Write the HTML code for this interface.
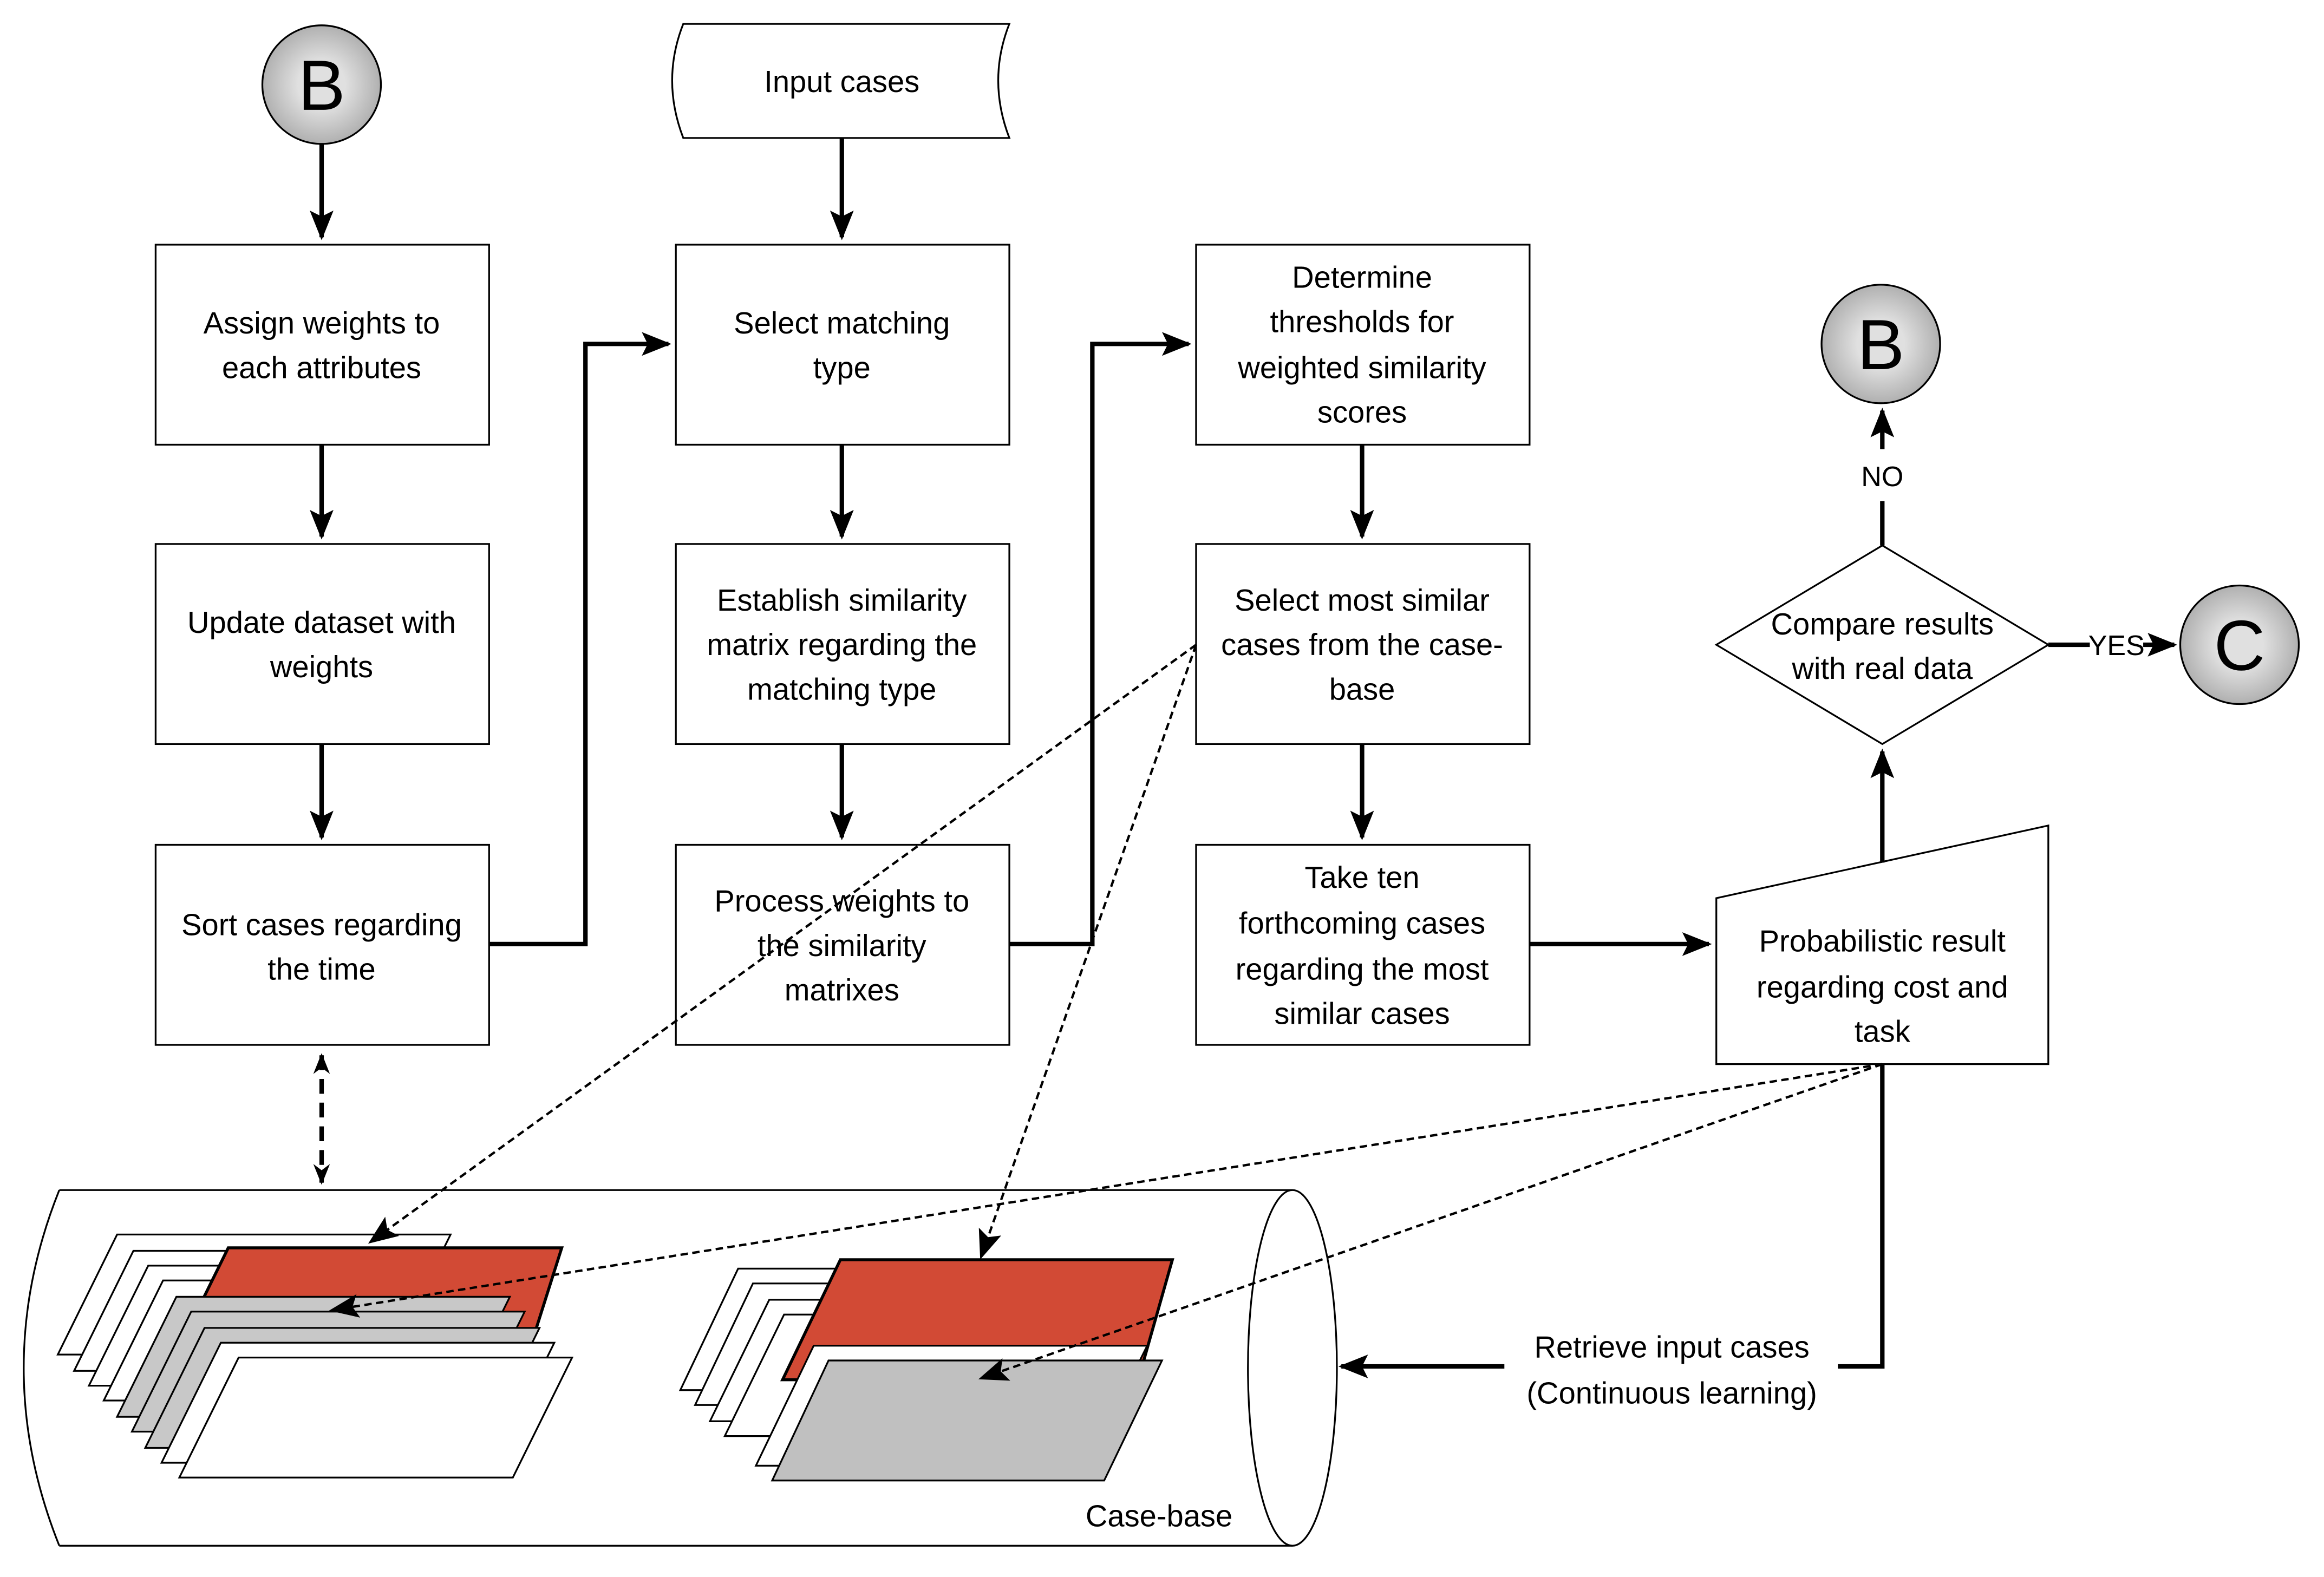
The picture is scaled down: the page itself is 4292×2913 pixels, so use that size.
<!DOCTYPE html>
<html><head><meta charset="utf-8"><style>html,body{margin:0;padding:0;background:#fff}svg{display:block}</style></head><body>
<svg xmlns="http://www.w3.org/2000/svg" width="4292" height="2913" viewBox="0 0 1568 1064" font-family="Liberation Sans, sans-serif">
<defs>
<radialGradient id="g" cx="0.5" cy="0.5" r="0.5"><stop offset="0.4" stop-color="#e0e0e0"/><stop offset="1" stop-color="#b0b0b0"/></radialGradient>
<marker id="ab" viewBox="0 0 10 10" refX="9" refY="5" markerWidth="20" markerHeight="20" markerUnits="userSpaceOnUse" orient="auto"><path d="M0,1L10,5L0,9L2,5z"/></marker>
<marker id="as" viewBox="0 0 10 10" refX="9" refY="5" markerWidth="16" markerHeight="14" markerUnits="userSpaceOnUse" orient="auto-start-reverse"><path d="M0,1L10,5L0,9L3,5z"/></marker>
</defs>
<rect width="1568" height="1064" fill="#fff"/>
<g fill="#fff" stroke="#000" stroke-width="1.2">
<rect x="105" y="165" width="225" height="135"/><rect x="105" y="367" width="225" height="135"/><rect x="105" y="570" width="225" height="135"/>
<rect x="456" y="165" width="225" height="135"/><rect x="456" y="367" width="225" height="135"/><rect x="456" y="570" width="225" height="135"/>
<rect x="807" y="165" width="225" height="135"/><rect x="807" y="367" width="225" height="135"/><rect x="807" y="570" width="225" height="135"/>
<path d="M461,16H681Q666,54 681,93H461Q446,54 461,16z"/>
<path d="M1270,368L1382,435L1270,502L1158,435z"/>
<path d="M1158,606L1382,557V718H1158z"/>
<circle cx="217" cy="57" r="40" fill="url(#g)"/><circle cx="1269" cy="232" r="40" fill="url(#g)"/><circle cx="1511" cy="435" r="40" fill="url(#g)"/>
<path d="M40,803H872M40,1043H872M40,803Q-8,923 40,1043" fill="none"/>
<ellipse cx="872" cy="923" rx="30" ry="120" fill="none"/>
</g>
<g font-size="48" text-anchor="middle" fill="#000"><text x="217" y="74">B</text><text x="1269" y="249">B</text><text x="1511" y="452">C</text></g>
<g stroke="#000" stroke-width="3" fill="none">
<path d="M217,97V160" marker-end="url(#ab)"/><path d="M217,300V362" marker-end="url(#ab)"/><path d="M217,502V565" marker-end="url(#ab)"/>
<path d="M568,93V160" marker-end="url(#ab)"/><path d="M568,300V362" marker-end="url(#ab)"/><path d="M568,502V565" marker-end="url(#ab)"/>
<path d="M919,300V362" marker-end="url(#ab)"/><path d="M919,502V565" marker-end="url(#ab)"/>
<path d="M330,637H395V232H451" marker-end="url(#ab)"/><path d="M681,637H737V232H802" marker-end="url(#ab)"/>
<path d="M1032,637H1153" marker-end="url(#ab)"/>
<path d="M1270,582V507" marker-end="url(#ab)"/>
<path d="M1270,368V338"/><path d="M1270,303V277" marker-end="url(#ab)"/>
<path d="M1382,435H1410"/><path d="M1446,435H1467" marker-end="url(#ab)"/>
<path d="M1270,718V922H1240"/><path d="M1015,922H905" marker-end="url(#ab)"/>
<path d="M217,712V798" stroke-dasharray="10,6" marker-start="url(#as)" marker-end="url(#as)"/>
</g>
<g stroke="#000" stroke-width="1.2">
<path d="M79,833H304L264,914H39z" fill="#fff"/><path d="M90,844H315L275,925H50z" fill="#fff"/><path d="M100,854H325L285,935H60z" fill="#fff"/><path d="M110,864H335L295,945H70z" fill="#fff"/>
<path d="M154,842H379L354,921H115z" fill="#d24a35" stroke-width="2"/>
<path d="M119,875H344L304,956H79z" fill="#c8c8c8"/><path d="M129,885H354L314,966H89z" fill="#c8c8c8"/><path d="M138,896H364L324,977H98z" fill="#c8c8c8"/>
<path d="M149,906H374L334,987H109z" fill="#fff"/><path d="M161,916H386L346,997H121z" fill="#fff"/>
<path d="M498,856H723L683,938H459z" fill="#fff"/><path d="M508,866H733L693,948H469z" fill="#fff"/><path d="M519,877H744L704,959H479z" fill="#fff"/><path d="M529,887H754L714,969H489z" fill="#fff"/>
<path d="M567,850H791L768,931H528z" fill="#d24a35" stroke-width="2"/>
<path d="M549,908H774L734,989H510z" fill="#fff"/><path d="M559,918H784L745,999H521z" fill="#c0c0c0"/>
</g>
<g stroke="#000" stroke-width="1.6" fill="none" stroke-dasharray="5,3">
<path d="M807,435L250,838" marker-end="url(#ab)"/><path d="M807,435L662,848" marker-end="url(#ab)"/>
<path d="M1270,718L224,884" marker-end="url(#ab)"/><path d="M1270,718L662,930" marker-end="url(#ab)"/>
</g>
<g font-size="20.5" text-anchor="middle" fill="#000">
<text x="568" y="62">Input cases</text>
<text x="217" y="225">Assign weights to</text><text x="217" y="255">each attributes</text>
<text x="217" y="427">Update dataset with</text><text x="217" y="457">weights</text>
<text x="217" y="631">Sort cases regarding</text><text x="217" y="661">the time</text>
<text x="568" y="225">Select matching</text><text x="568" y="255">type</text>
<text x="568" y="412">Establish similarity</text><text x="568" y="442">matrix regarding the</text><text x="568" y="472">matching type</text>
<text x="568" y="615">Process weights to</text><text x="568" y="645">the similarity</text><text x="568" y="675">matrixes</text>
<text x="919" y="194">Determine</text><text x="919" y="224">thresholds for</text><text x="919" y="255">weighted similarity</text><text x="919" y="285">scores</text>
<text x="919" y="412">Select most similar</text><text x="919" y="442">cases from the case-</text><text x="919" y="472">base</text>
<text x="919" y="599">Take ten</text><text x="919" y="630">forthcoming cases</text><text x="919" y="661">regarding the most</text><text x="919" y="691">similar cases</text>
<text x="1270" y="642">Probabilistic result</text><text x="1270" y="673">regarding cost and</text><text x="1270" y="703">task</text>
<text x="1270" y="428">Compare results</text><text x="1270" y="458">with real data</text>
<text x="1128" y="916">Retrieve input cases</text><text x="1128" y="947">(Continuous learning)</text>
<text x="782" y="1030">Case-base</text>
<text x="1270" y="328" font-size="19">NO</text><text x="1428" y="442" font-size="19">YES</text>
</g>
</svg>
</body></html>
